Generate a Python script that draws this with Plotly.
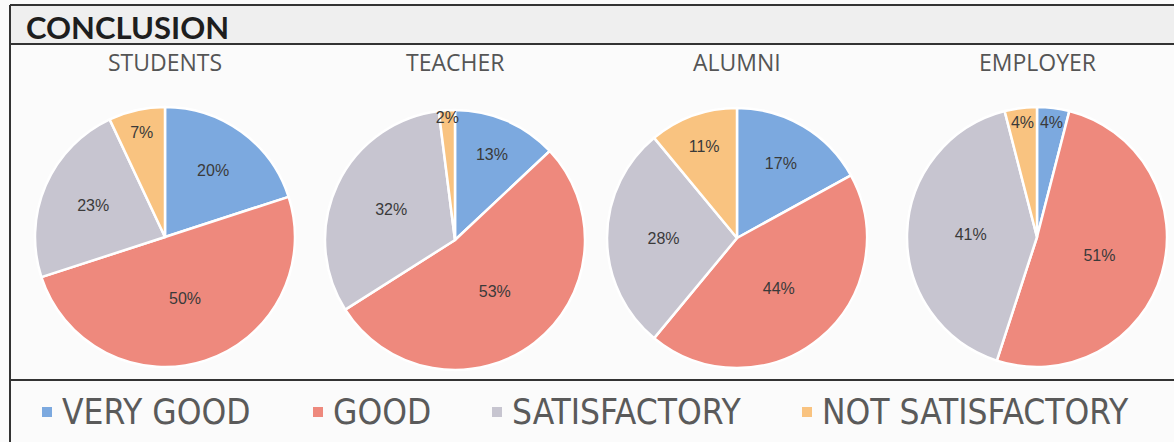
import plotly.graph_objects as go

W, H = 1174, 442

groups = ["STUDENTS", "TEACHER", "ALUMNI", "EMPLOYER"]
categories = ["VERY GOOD", "GOOD", "SATISFACTORY", "NOT SATISFACTORY"]
students = [20, 50, 23, 7]
teacher = [13, 53, 32, 2]
alumni = [17, 44, 28, 11]
employer = [4, 51, 41, 4]
series = [students, teacher, alumni, employer]
colors = ["#7CA9DF", "#EE897D", "#C7C5D0", "#F9C380"]

# pie centers / radius in pixels (layout only)
centers = [(165, 237), (455, 240), (737, 238), (1037, 237)]
R = 130


def px(x):
    return x / W


def py(y):
    return 1 - y / H


fig = go.Figure()
for i, (name, vals) in enumerate(zip(groups, series)):
    cx, cy = centers[i]
    fig.add_trace(go.Pie(
        labels=categories, values=vals, name=name,
        sort=False, direction="clockwise", rotation=0,
        marker=dict(colors=colors, line=dict(color="white", width=2.5)),
        texttemplate="%{percent:.0%}",
        textposition="inside", insidetextorientation="horizontal",
        textfont=dict(family="Liberation Sans, Arial", size=16, color="#3a3a3a"),
        domain=dict(x=[px(cx - R), px(cx + R)], y=[py(cy + R), py(cy - R)]),
        showlegend=False, hoverinfo="label+percent",
    ))
    fig.add_annotation(text=name, x=px(cx), y=py(62), xref="paper", yref="paper",
                       xanchor="center", yanchor="middle", showarrow=False,
                       font=dict(family="Open Sans, Lato", size=23, color="#555555"))

fig.add_annotation(text="<b>CONCLUSION</b>", x=px(24), y=py(27), xref="paper", yref="paper",
                   xanchor="left", yanchor="middle", showarrow=False,
                   font=dict(family="Lato, Open Sans", size=31, color="#1e1e1e"))

# legend drawn as coloured squares + text
leg_marker_x = [47, 318, 497, 807]
leg_text_x = [60, 331, 510, 820]
leg_y = 412
shapes = []
for cat, col, mx, tx in zip(categories, colors, leg_marker_x, leg_text_x):
    shapes.append(dict(type="rect", xref="paper", yref="paper",
                       x0=px(mx - 5), x1=px(mx + 5), y0=py(leg_y + 5), y1=py(leg_y - 5),
                       fillcolor=col, line=dict(width=0)))
    fig.add_annotation(text=cat, x=px(tx), y=py(leg_y), xref="paper", yref="paper",
                       xanchor="left", yanchor="middle", showarrow=False,
                       font=dict(family="Liberation Sans Narrow, DejaVu Sans Condensed, Open Sans",
                                 size=35, color="#5a5a5a"))

line = dict(color="#333333", width=2)
shapes = [
    dict(type="rect", xref="paper", yref="paper", x0=px(10), x1=1, y0=py(5), y1=py(44),
         fillcolor="#efefef", line=dict(width=0), layer="below"),
    dict(type="line", xref="paper", yref="paper", x0=px(10), x1=1, y0=py(5), y1=py(5), line=line),
    dict(type="line", xref="paper", yref="paper", x0=px(10), x1=1, y0=py(44), y1=py(44), line=line),
    dict(type="line", xref="paper", yref="paper", x0=px(10), x1=1, y0=py(380), y1=py(380), line=line),
    dict(type="line", xref="paper", yref="paper", x0=px(10), x1=px(10), y0=py(5), y1=0, line=line),
] + shapes

fig.update_layout(
    width=W, height=H, margin=dict(l=0, r=0, t=0, b=0),
    paper_bgcolor="#fbfbfb", plot_bgcolor="#fbfbfb",
    shapes=shapes, showlegend=False,
    uniformtext=dict(minsize=16, mode="show"),
)

fig.write_html("out.html", config={"displayModeBar": False},
               post_script="document.body.style.margin='0px';document.body.style.overflow='hidden';")
